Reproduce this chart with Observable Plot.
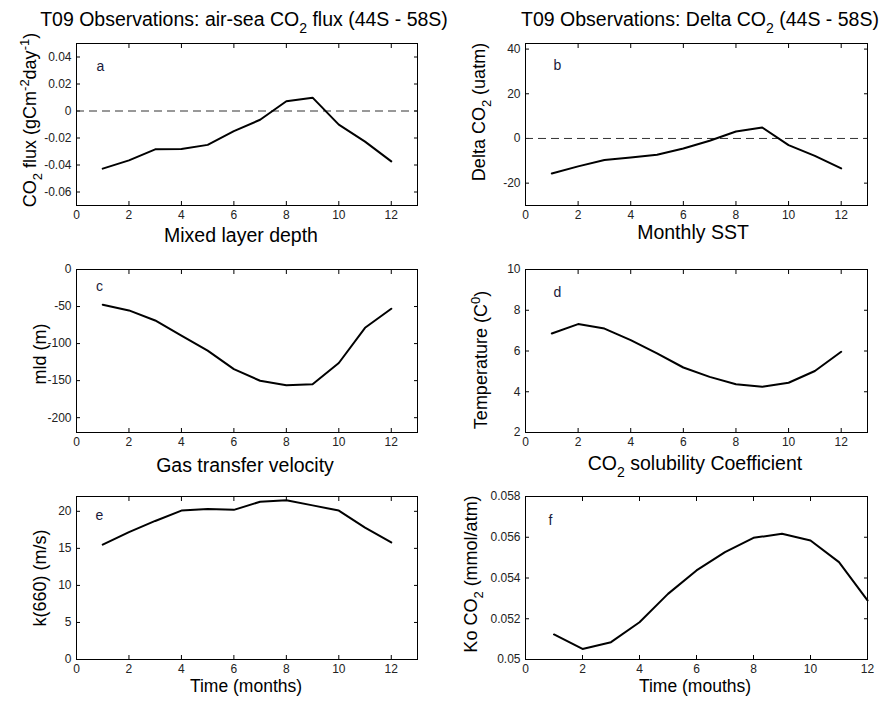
<!DOCTYPE html>
<html><head><meta charset="utf-8">
<script src="https://cdn.jsdelivr.net/npm/d3@7"></script>
<script src="https://cdn.jsdelivr.net/npm/@observablehq/plot@0.6"></script>
<style>
body{margin:0;background:#fff;}
#root{position:relative;width:879px;height:702px;font-family:"Liberation Sans",Arial,Helvetica,sans-serif;color:#000;overflow:hidden;}
.pl{position:absolute;}
.t{position:absolute;white-space:nowrap;line-height:1;}
.s{font-size:0.72em;position:relative;top:0.45em;}
.p{font-size:0.72em;position:relative;top:-0.55em;}
</style></head>
<body><div id="root"></div>
<script>
// ---- data ----
const months = [1,2,3,4,5,6,7,8,9,10,11,12];
const co2Flux = [-0.0427,-0.0366,-0.0284,-0.0282,-0.0251,-0.0149,-0.0065,0.0072,0.0099,-0.0101,-0.0227,-0.0373];
const deltaCO2 = [-15.7,-12.5,-9.6,-8.5,-7.3,-4.5,-1.0,3.1,4.9,-3.0,-7.8,-13.4];
const mld = [-47.5,-55.2,-68.8,-89.1,-109.5,-134.4,-150.2,-156.1,-154.8,-126.2,-78.7,-52.9];
const sst = [6.86,7.32,7.10,6.53,5.88,5.19,4.73,4.37,4.24,4.44,5.02,5.96];
const k660 = [15.5,17.2,18.7,20.1,20.3,20.2,21.3,21.5,20.8,20.1,17.8,15.8];
const koCO2 = [0.05123,0.05052,0.05085,0.05183,0.05322,0.05437,0.05527,0.05597,0.05617,0.05584,0.05478,0.05290];

const xTicks = [0,2,4,6,8,10,12];
const fluxTicks = [-0.06,-0.04,-0.02,0,0.02,0.04];
const deltaTicks = [-20,0,20,40];
const mldTicks = [-200,-150,-100,-50,0];
const tempTicks = [2,4,6,8,10];
const kTicks = [0,5,10,15,20];
const koTicks = [0.05,0.052,0.054,0.056,0.058];
const zeroLine = [0];
const panelLetters = ["a","b","c","d","e","f"];

const FONT = '"Liberation Sans", Arial, Helvetica, sans-serif';
const fmt = d => String(+(+d).toFixed(4));

const panels = [
  {values: co2Flux, yTicks: fluxTicks, xDomain:[0,13], yDomain:[-0.07,0.05], zero:true, letter:0,
   left:0, top:0, w:440, h:232, m:[43,23,27,76], ld:[24,23]},
  {values: deltaCO2, yTicks: deltaTicks, xDomain:[0,13], yDomain:[-30,42.5], zero:true, letter:1,
   left:440, top:0, w:439, h:232, m:[43,12,27,85], ld:[32,22]},
  {values: mld, yTicks: mldTicks, xDomain:[0,13], yDomain:[-220,0], zero:false, letter:2,
   left:0, top:232, w:440, h:226, m:[37,23,26,76], ld:[23,17]},
  {values: sst, yTicks: tempTicks, xDomain:[0,13], yDomain:[2,10], zero:false, letter:3,
   left:440, top:232, w:439, h:226, m:[37,12,26,85], ld:[32,23]},
  {values: k660, yTicks: kTicks, xDomain:[0,13], yDomain:[0,22], zero:false, letter:4,
   left:0, top:458, w:440, h:244, m:[38,23,43,76], ld:[23,19]},
  {values: koCO2, yTicks: koTicks, xDomain:[0,12], yDomain:[0.05,0.058], zero:false, letter:5,
   left:440, top:458, w:439, h:244, m:[38,12,43,85], ld:[25,24]}
];

const root = document.getElementById("root");

for (const cfg of panels) {
  const data = months.map((m, i) => ({x: m, y: cfg.values[i]}));
  const marks = [
    Plot.axisX(xTicks, {anchor: "bottom", label: null, tickSize: -4, tickPadding: 9, tickFormat: fmt, stroke: "#000"}),
    Plot.axisX(xTicks, {anchor: "top", label: null, tickSize: -4, tickFormat: () => "", stroke: "#000"}),
    Plot.axisY(cfg.yTicks, {anchor: "left", label: null, tickSize: -4, tickPadding: 9, tickFormat: fmt, stroke: "#000"}),
    Plot.axisY(cfg.yTicks, {anchor: "right", label: null, tickSize: -4, tickFormat: () => "", stroke: "#000"})
  ];
  if (cfg.zero) marks.push(Plot.ruleY(zeroLine, {stroke: "#333", strokeWidth: 1, strokeDasharray: "8,5"}));
  marks.push(Plot.line(data, {x: "x", y: "y", stroke: "#000", strokeWidth: 2}));
  marks.push(Plot.text([panelLetters[cfg.letter]], {text: d => d, frameAnchor: "top-left", dx: cfg.ld[0], dy: cfg.ld[1],
    textAnchor: "middle", lineAnchor: "middle", fontSize: 14, fill: "#1a1a3a"}));
  marks.push(Plot.frame({stroke: "#000", strokeWidth: 1}));
  const el = Plot.plot({
    width: cfg.w, height: cfg.h,
    marginTop: cfg.m[0], marginRight: cfg.m[1], marginBottom: cfg.m[2], marginLeft: cfg.m[3],
    x: {domain: cfg.xDomain, label: null},
    y: {domain: cfg.yDomain, label: null},
    style: {fontFamily: FONT, fontSize: "12px", color: "#222", background: "transparent", overflow: "visible"},
    marks
  });
  el.classList.add("pl");
  el.style.left = cfg.left + "px";
  el.style.top = cfg.top + "px";
  root.appendChild(el);
}

function hText(html, cx, baseline, fs) {
  const d = document.createElement("div");
  d.className = "t";
  d.style.fontSize = fs + "px";
  d.style.left = cx + "px";
  d.style.top = (baseline - 0.8465 * fs) + "px";
  d.style.transform = "translateX(-50%)";
  d.innerHTML = html;
  root.appendChild(d);
}
function vText(html, cx, cy, fs) {
  const d = document.createElement("div");
  d.className = "t";
  d.style.fontSize = fs + "px";
  d.style.left = cx + "px";
  d.style.top = cy + "px";
  d.style.transform = "translate(-50%,-50%) rotate(-90deg)";
  d.innerHTML = html;
  root.appendChild(d);
}

hText('T09 Observations: air-sea CO<span class="s">2</span> flux (44S - 58S)', 244, 27, 19.5);
hText('T09 Observations: Delta CO<span class="s">2</span> (44S - 58S)', 700, 27, 19.5);
hText('Mixed layer depth', 241, 243, 19.5);
hText('Monthly SST', 693, 240, 19.5);
hText('Gas transfer velocity', 245, 473, 19.5);
hText('CO<span class="s">2</span> solubility Coefficient', 695, 471, 19.5);
hText('Time (months)', 246, 693, 17.5);
hText('Time (mouths)', 695, 693, 17.5);

vText('CO<span class="s">2</span> flux (gCm<span class="p">-2</span>day<span class="p">-1</span>)', 30, 120, 18);
vText('Delta CO<span class="s">2</span> (uatm)', 479, 112, 18);
vText('mld (m)', 40, 354, 18);
vText('Temperature (C<span class="p">0</span>)', 481, 360, 18);
vText('k(660) (m/s)', 40, 578, 18);
vText('Ko CO<span class="s">2</span> (mmol/atm)', 471, 574, 18);
</script>
</body></html>
